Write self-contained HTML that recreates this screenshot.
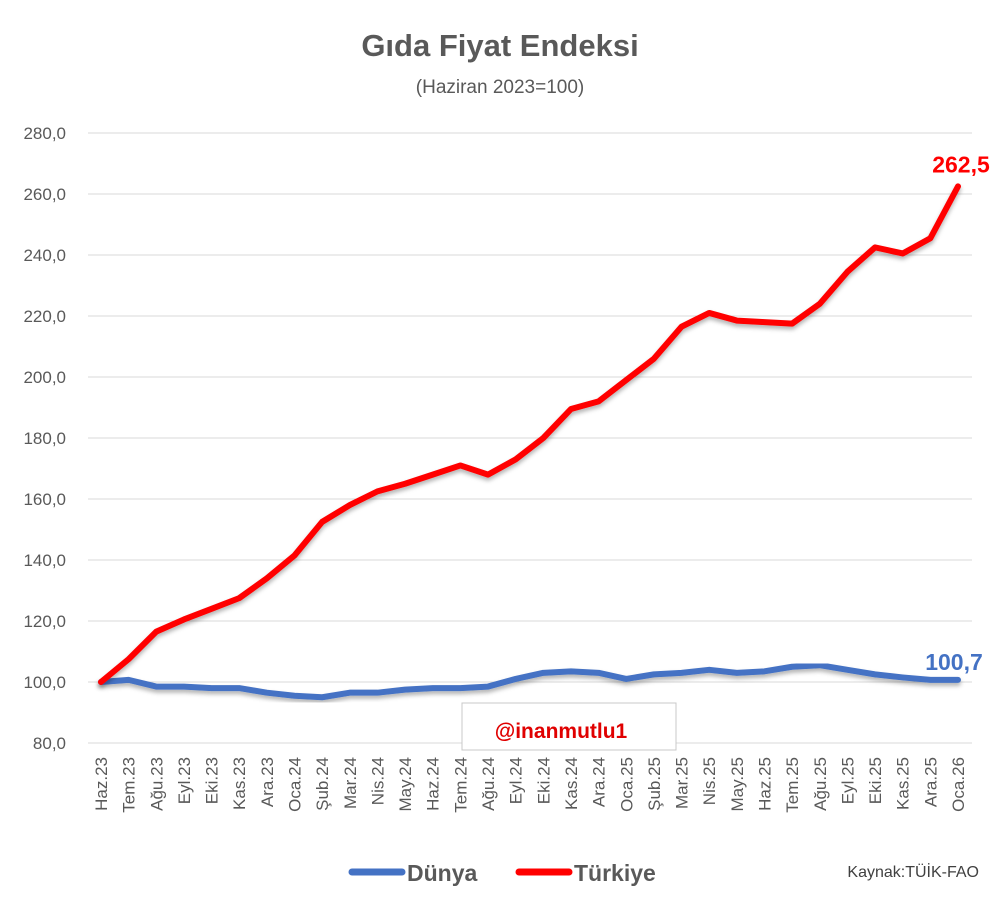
<!DOCTYPE html>
<html><head><meta charset="utf-8"><style>
body{margin:0;background:#fff;}
svg{display:block;font-family:"Liberation Sans",sans-serif;}
</style></head><body>
<svg id="chart" width="1000" height="908">
<defs><filter id="sh" x="-5%" y="-5%" width="110%" height="120%"><feDropShadow dx="0" dy="3" stdDeviation="2" flood-color="#000" flood-opacity="0.3"/></filter></defs>
<text x="500" y="56" text-anchor="middle" font-size="31" font-weight="bold" fill="#595959">Gıda Fiyat Endeksi</text>
<text x="500" y="93" text-anchor="middle" font-size="19" fill="#595959">(Haziran 2023=100)</text>
<g id="grid"></g><g id="yt"></g><g id="xt"></g>
<g id="series"></g>
<rect x="462" y="703" width="214" height="47" fill="#fff" stroke="#c8c8c8"/>
<text x="561" y="738" text-anchor="middle" font-size="21" font-weight="bold" fill="#e00000">@inanmutlu1</text>
<line x1="352" y1="872" x2="402" y2="872" stroke="#4472c4" stroke-width="7" stroke-linecap="round"/>
<text x="407" y="881" font-size="23" font-weight="bold" fill="#595959">Dünya</text>
<line x1="519" y1="872" x2="569" y2="872" stroke="#ff0000" stroke-width="7" stroke-linecap="round"/>
<text x="574" y="881" font-size="23" font-weight="bold" fill="#595959">Türkiye</text>
<text x="979" y="877" text-anchor="end" font-size="16" fill="#404040">Kaynak:TÜİK-FAO</text>
</svg>
<script>
const categories=["Haz.23","Tem.23","Ağu.23","Eyl.23","Eki.23","Kas.23","Ara.23","Oca.24","Şub.24","Mar.24","Nis.24","May.24","Haz.24","Tem.24","Ağu.24","Eyl.24","Eki.24","Kas.24","Ara.24","Oca.25","Şub.25","Mar.25","Nis.25","May.25","Haz.25","Tem.25","Ağu.25","Eyl.25","Eki.25","Kas.25","Ara.25","Oca.26"];
const turkiye=[100,107.5,116.5,120.5,124,127.5,134,141.5,152.5,158,162.5,165,168,171,168,173,180,189.5,192,199,206,216.5,221,218.5,218,217.5,224,234.5,242.5,240.5,245.5,262.5];
const dunya=[100,100.7,98.5,98.5,98,98,96.5,95.5,95,96.5,96.5,97.5,98,98,98.5,101,103,103.5,103,101,102.5,103,104,103,103.5,105,105.5,104,102.5,101.5,100.7,100.7];
const yTicks=[80,100,120,140,160,180,200,220,240,260,280];
const NS="http://www.w3.org/2000/svg";
const y=v=>743-(v-80)*3.05;
const x=i=>101+i*(857/(categories.length-1));
function mk(t,a,p){const e=document.createElementNS(NS,t);for(const k in a)e.setAttribute(k,a[k]);p.appendChild(e);return e;}
const g=document.getElementById('grid'),yt=document.getElementById('yt'),xt=document.getElementById('xt'),s=document.getElementById('series');
yTicks.forEach(v=>{
 const l=mk('line',{x1:88,x2:972,y1:y(v),y2:y(v),stroke:'#d9d9d9','stroke-width':1},g);
 
 
 const t=mk('text',{x:66,y:y(v)+6,'text-anchor':'end','font-size':17,fill:'#595959'},yt);
 t.textContent=v.toFixed(1).replace('.',',');
 
 
});
categories.forEach((c,i)=>{
 const t=mk('text',{transform:`translate(${x(i)+6},757) rotate(-90)`,'text-anchor':'end','font-size':17,fill:'#595959'},xt);
 t.textContent=c;
 
 
});
function line(d,col,name){
 const p=mk('polyline',{points:d.map((v,i)=>x(i)+','+y(v)).join(' '),fill:'none',stroke:col,'stroke-width':6,'stroke-linejoin':'round','stroke-linecap':'round',filter:'url(#sh)'},s);
 
 
}
line(dunya,'#4472c4','dunya-line');
line(turkiye,'#ff0000','turkiye-line');
const n=categories.length-1;
const l1=mk('text',{x:x(n)+3,y:y(turkiye[n])-14,'text-anchor':'middle','font-size':23,'font-weight':'bold',fill:'#ff0000'},s);
l1.textContent=turkiye[n].toFixed(1).replace('.',',');


const l2=mk('text',{x:x(n)-4,y:y(dunya[n])-10,'text-anchor':'middle','font-size':23,'font-weight':'bold',fill:'#4472c4'},s);
l2.textContent=dunya[n].toFixed(1).replace('.',',');


</script>
</body></html>
